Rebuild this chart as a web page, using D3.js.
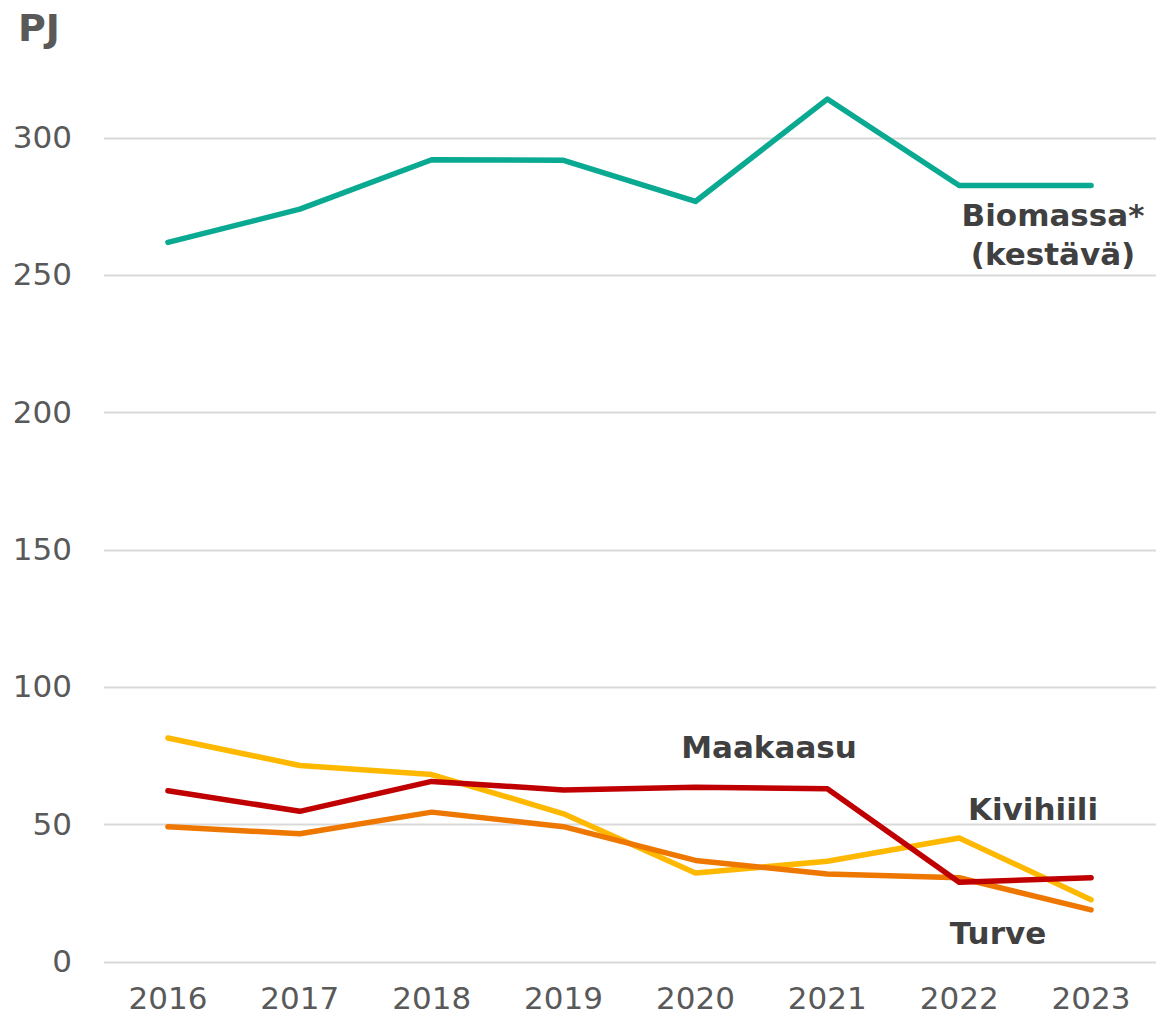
<!DOCTYPE html>
<html>
<head>
<meta charset="utf-8">
<script src="https://cdn.jsdelivr.net/npm/d3@7"></script>
<style>
  body { margin: 0; background: #fff; }
  svg { display: block; font-family: "DejaVu Sans", Verdana, sans-serif; }
</style>
</head>
<body>
<div id="chart"></div>
<script>
// data
var years = ["2016", "2017", "2018", "2019", "2020", "2021", "2022", "2023"];
var biomassa = [261.9, 274.0, 292.0, 291.8, 276.8, 314.1, 282.6, 282.6];
var maakaasu = [62.2, 54.7, 65.6, 62.5, 63.5, 62.9, 28.9, 30.5];
var kivihiili = [81.4, 71.4, 68.1, 53.8, 32.2, 36.5, 45.0, 22.5];
var turve = [49.1, 46.5, 54.4, 49.1, 36.8, 31.9, 30.5, 18.8];
var yTicks = [0, 50, 100, 150, 200, 250, 300];

var series = [
  { name: "Biomassa", values: biomassa, color: "#0aa991" },
  { name: "Kivihiili", values: kivihiili, color: "#ffb800" },
  { name: "Turve", values: turve, color: "#ee7700" },
  { name: "Maakaasu", values: maakaasu, color: "#c00000" }
];

var width = 1156, height = 1019;
var margin = {top: 0, right: 0, bottom: 58, left: 104};

var svg = d3.select("#chart").append("svg")
    .attr("width", width)
    .attr("height", height);

var x = d3.scaleBand()
    .domain(years)
    .range([margin.left - 2, width + 1]);

var y = d3.scaleLinear()
    .domain([0, 350])
    .range([961.5, 0.5]);

// grid
svg.append("g")
    .selectAll("line")
    .data(yTicks)
    .enter().append("line")
    .attr("x1", margin.left)
    .attr("x2", width)
    .attr("y1", function (d) { return Math.round(y(d)) + 0.5; })
    .attr("y2", function (d) { return Math.round(y(d)) + 0.5; })
    .attr("stroke", "#d9d9d9")
    .attr("stroke-width", 2);

// y axis labels
var yAxis = d3.axisLeft(y).tickValues(yTicks).tickSize(0).tickPadding(0);
var gY = svg.append("g")
    .attr("transform", "translate(72,0)")
    .call(yAxis);
gY.select(".domain").remove();
gY.selectAll("text")
    .attr("font-size", 31)
    .attr("font-family", "DejaVu Sans, Verdana, sans-serif")
    .attr("fill", "#595959");

// x axis labels
var xAxis = d3.axisBottom(x).tickSize(0).tickPadding(0);
var gX = svg.append("g")
    .attr("transform", "translate(0,987)")
    .call(xAxis);
gX.select(".domain").remove();
gX.selectAll("text")
    .attr("font-size", 31)
    .attr("font-family", "DejaVu Sans, Verdana, sans-serif")
    .attr("fill", "#595959");

// lines
var line = d3.line()
    .x(function (d, i) { return x(years[i]) + x.bandwidth() / 2; })
    .y(function (d) { return y(d); });

svg.append("g")
    .selectAll("path")
    .data(series)
    .enter().append("path")
    .attr("d", function (s) { return line(s.values); })
    .attr("fill", "none")
    .attr("stroke", function (s) { return s.color; })
    .attr("stroke-width", 5.5)
    .attr("stroke-linecap", "round")
    .attr("stroke-linejoin", "round");

// unit label
svg.append("text")
    .attr("x", 18)
    .attr("y", 41)
    .attr("font-size", 38)
    .attr("font-weight", "bold")
    .attr("fill", "#595959")
    .text("PJ");

// series labels
var labels = [
  { lines: ["Biomassa*", "(kestävä)"], x: 1053, y: 226 },
  { lines: ["Maakaasu"], x: 769, y: 758 },
  { lines: ["Kivihiili"], x: 1033, y: 820 },
  { lines: ["Turve"], x: 998, y: 944 }
];

labels.forEach(function (l) {
  var t = svg.append("text")
      .attr("x", l.x)
      .attr("y", l.y)
      .attr("text-anchor", "middle")
      .attr("font-size", 31)
      .attr("font-weight", "bold")
      .attr("fill", "#404040");
  l.lines.forEach(function (s, i) {
    t.append("tspan")
        .attr("x", l.x)
        .attr("dy", i == 0 ? 0 : 39)
        .text(s);
  });
});
</script>
</body>
</html>
